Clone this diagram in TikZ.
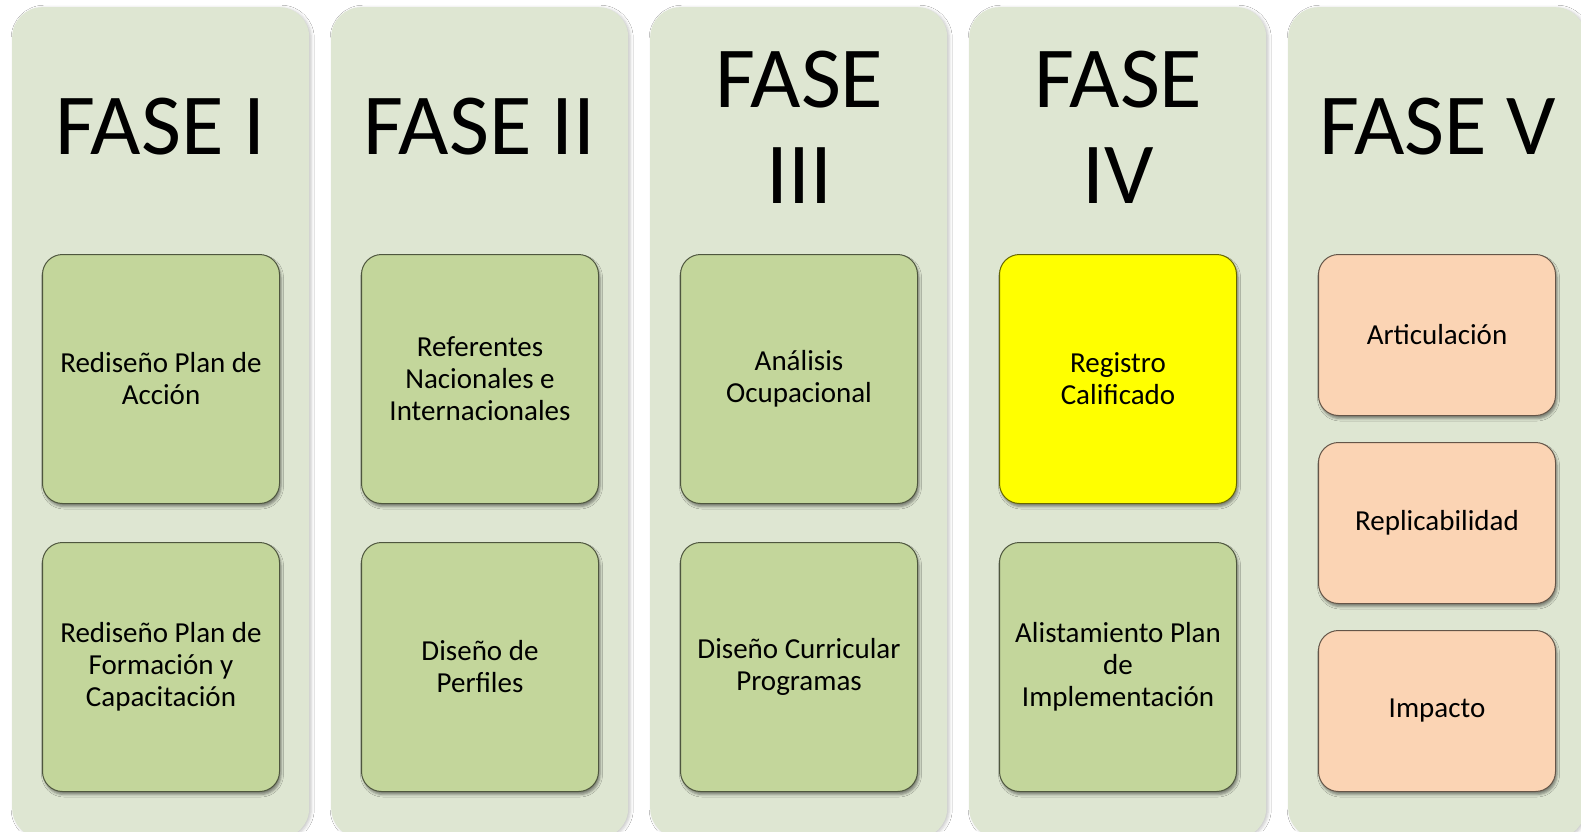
\documentclass[tikz,border=0pt]{standalone}
\usepackage{fontspec}
\setmainfont{Carlito}
\usetikzlibrary{shadows.blur}
\definecolor{colbg}{HTML}{DEE6D2}
\definecolor{boxgreen}{HTML}{C3D69B}
\definecolor{boxpeach}{HTML}{FBD4B4}
\definecolor{boxyellow}{HTML}{FFFF00}
\tikzset{
  colbox/.style={fill=colbg, rounded corners=30pt, minimum width=297pt, minimum height=831pt,
    anchor=north west, inner sep=0pt,
    blur shadow={shadow xshift=2pt, shadow yshift=-1pt, shadow blur radius=3pt, shadow opacity=22}},
  stagebox/.style={rounded corners=20pt, line width=1pt, minimum width=237pt, anchor=north west,
    inner sep=0pt, align=center, font=\fontsize{29}{32}\selectfont,
    blur shadow={shadow xshift=1.5pt, shadow yshift=-3pt, shadow blur radius=2.5pt, shadow opacity=45}},
  greenbox/.style={stagebox, fill=boxgreen, draw=boxgreen!40!black, minimum height=249pt},
  yellowbox/.style={stagebox, fill=boxyellow, draw=boxyellow!40!black, minimum height=249pt},
  peachbox/.style={stagebox, fill=boxpeach, draw=boxpeach!40!black, minimum height=161pt},
  phasetitle/.style={font=\fontsize{87}{96}\selectfont, align=center, inner sep=0pt}
}
\begin{document}
\begin{tikzpicture}[x=1pt,y=-1pt]
\useasboundingbox (0,0) rectangle (1581,831);
\fill[white] (0,0) rectangle (1581,831);
% columns
\node[colbox] (c1) at (12,7) {};
\node[colbox] (c2) at (331,7) {};
\node[colbox] (c3) at (650,7) {};
\node[colbox] (c4) at (969,7) {};
\node[colbox] (c5) at (1288,7) {};
% titles
\node[phasetitle] (t1) at (160.5,127) {FASE I};
\node[phasetitle] (t2) at (479.5,127) {FASE II};
\node[phasetitle] (t3) at (799.5,127) {FASE\\III};
\node[phasetitle] (t4) at (1118.5,127) {FASE\\IV};
\node[phasetitle] (t5) at (1437.5,127) {FASE V};
% boxes column I
\node[greenbox] (b11) at (42,254) {Rediseño Plan de\\Acción};
\node[greenbox] (b12) at (42,542) {Rediseño Plan de\\Formación y\\Capacitación};
% column II
\node[greenbox] (b21) at (361,254) {Referentes\\Nacionales e\\Internacionales};
\node[greenbox] (b22) at (361,542) {Diseño de\\Perfiles};
% column III
\node[greenbox] (b31) at (680,254) {Análisis\\Ocupacional};
\node[greenbox] (b32) at (680,542) {Diseño Curricular\\Programas};
% column IV
\node[yellowbox] (b41) at (999,254) {Registro\\Calificado};
\node[greenbox] (b42) at (999,542) {Alistamiento Plan\\de\\Implementación};
% column V
\node[peachbox] (b51) at (1318,254) {Articulación};
\node[peachbox] (b52) at (1318,442) {Replicabilidad};
\node[peachbox] (b53) at (1318,630) {Impacto};
\end{tikzpicture}
\end{document}
